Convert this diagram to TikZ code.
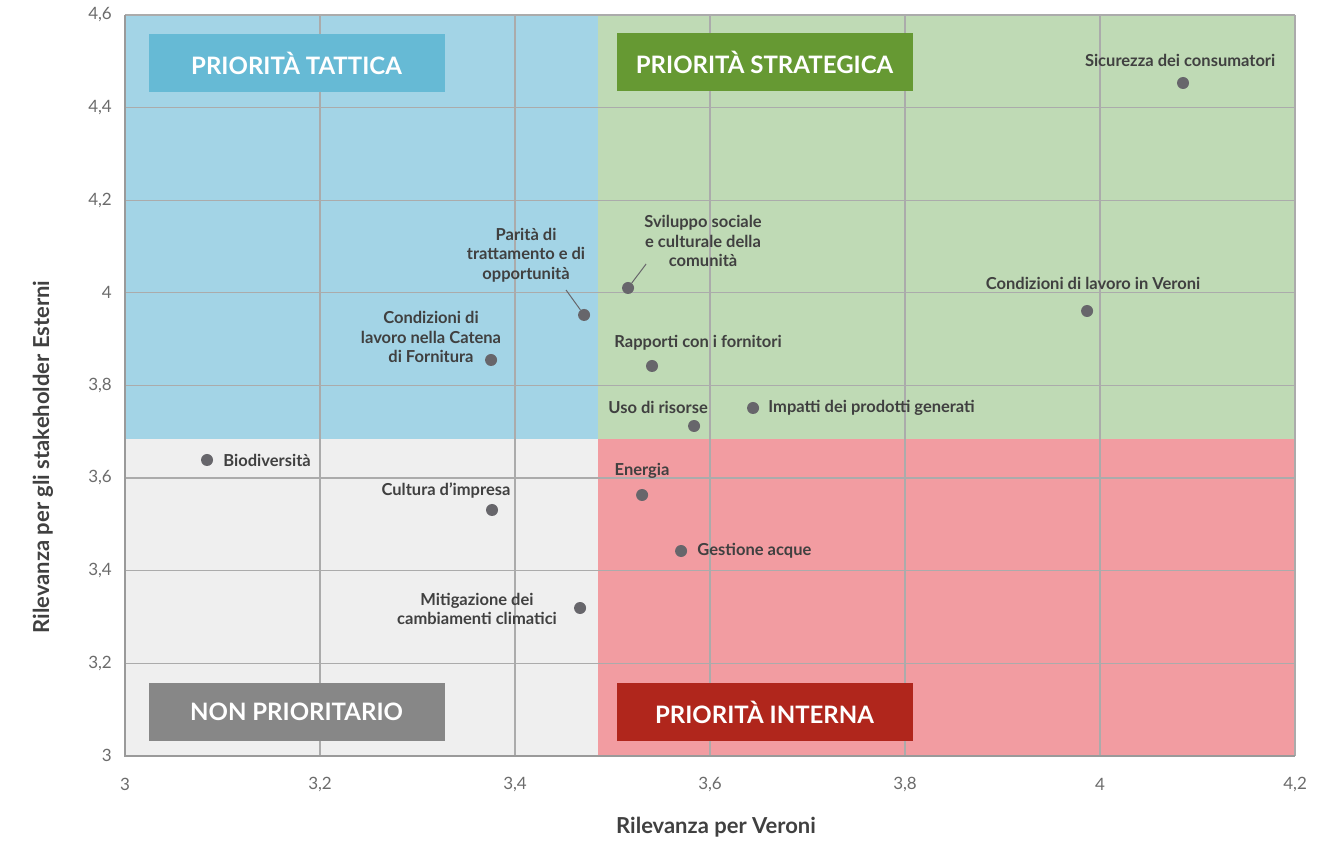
\documentclass[tikz,border=0pt]{standalone}
\usepackage{fontspec}
\setmainfont{Lato}
\usepackage{tikz}
\usetikzlibrary{positioning}

\definecolor{tatticablue}{HTML}{A3D4E6}
\definecolor{tatticabox}{HTML}{66BAD5}
\definecolor{strategicagreen}{HTML}{BFDAB5}
\definecolor{strategicabox}{HTML}{669933}
\definecolor{nongray}{HTML}{EFEFEF}
\definecolor{nonbox}{HTML}{878787}
\definecolor{internared}{HTML}{F29CA1}
\definecolor{internabox}{HTML}{B0261C}
\definecolor{gridgray}{HTML}{ABABAB}
\definecolor{axisgray}{HTML}{9A9A9A}
\definecolor{dotgray}{HTML}{67666B}
\definecolor{labelgray}{HTML}{404040}
\definecolor{tickgray}{HTML}{6B6B6B}

\begin{document}
\begin{tikzpicture}[x=975pt, y=463pt,
    dot/.style={circle, fill=dotgray, minimum size=12pt, inner sep=0pt},
    lbl/.style={font=\bfseries\fontsize{16.5}{19.5}\selectfont, text=labelgray, inner sep=0pt, align=center},
    quadlbl/.style={minimum width=296pt, minimum height=58pt, inner sep=0pt, text=white, font=\bfseries\fontsize{24}{28}\selectfont},
    ticklbl/.style={font=\fontsize{17}{20}\selectfont, text=tickgray, inner sep=0pt},
    axistitle/.style={font=\bfseries\fontsize{22}{26}\selectfont, text=labelgray, inner sep=0pt},
    gridline/.style={draw=gridgray, line width=1.3pt},
    axisline/.style={draw=axisgray, line width=2.6pt},
    leader/.style={draw=dotgray, line width=1pt}]
    \useasboundingbox (2.8718,2.8143) rectangle (4.2451,4.6324);
    % quadrants
    \fill[tatticablue] (3,3.684) rectangle (3.485,4.6);
    \fill[strategicagreen] (3.485,3.684) rectangle (4.2,4.6);
    \fill[nongray] (3,3) rectangle (3.485,3.684);
    \fill[internared] (3.485,3) rectangle (4.2,3.684);
    % grid
    \foreach \x in {3.2,3.4,3.6,3.8,4,4.2}
        \draw[gridline] (\x,3) -- (\x,4.6);
    \foreach \y in {3.2,3.4,3.6,3.8,4,4.2,4.4,4.6}
        \draw[gridline] (3,\y) -- (4.2,\y);
    \draw[axisline] (3,4.6) -- (3,3) -- (4.2,3);
    % ticks
    \foreach \x/\t [count=\i] in {3/3,3.2/{3,2},3.4/{3,4},3.6/{3,6},3.8/{3,8},4/4,4.2/{4,2}}
        \node[ticklbl] (xtick\i) at ([yshift=-29pt]\x,3) {\t};
    \foreach \y/\t [count=\i] in {3/3,3.2/{3,2},3.4/{3,4},3.6/{3,6},3.8/{3,8},4/4,4.2/{4,2},4.4/{4,4},4.6/{4,6}}
        \node[ticklbl, anchor=east] (ytick\i) at ([xshift=-13pt]3,\y) {\t};
    \node[axistitle] (xtitle) at (3.6061,2.846) {Rilevanza per Veroni};
    \node[axistitle, rotate=90] (ytitle) at (2.9159,3.6454) {Rilevanza per gli stakeholder Esterni};
    % quadrant titles
    \node[quadlbl, fill=tatticabox] (tattica) at (3.1759,4.4963) {PRIORITÀ TATTICA};
    \node[quadlbl, fill=strategicabox] (strategica) at (3.6559,4.4985) {PRIORITÀ STRATEGICA};
    \node[quadlbl, fill=nonbox] (nonprio) at (3.1759,3.0946) {NON PRIORITARIO};
    \node[quadlbl, fill=internabox] (interna) at (3.6559,3.0946) {PRIORITÀ INTERNA};
    % topics
    \node[dot] (s1) at (4.0851,4.4531) {};
    \node[dot] (s2) at (3.9867,3.9607) {};
    \node[dot] (s3) at (3.5159,4.0104) {};
    \node[dot] (s4) at (3.4708,3.9521) {};
    \node[dot] (s5) at (3.3754,3.8549) {};
    \node[dot] (s6) at (3.5405,3.8419) {};
    \node[dot] (s7) at (3.5836,3.7123) {};
    \node[dot] (s8) at (3.6441,3.7512) {};
    \node[dot] (s9) at (3.0841,3.6389) {};
    \node[dot] (s10) at (3.3764,3.5309) {};
    \node[dot] (s11) at (3.5303,3.5633) {};
    \node[dot] (s12) at (3.5703,3.4423) {};
    \node[dot] (s13) at (3.4667,3.3192) {};
    \node[lbl] (l1) at (4.0821,4.5028) {Sicurezza dei consumatori};
    \node[lbl] (l2) at (3.9928,4.0212) {Condizioni di lavoro in Veroni};
    \node[lbl] (l3) at (3.5928,4.1119) {Sviluppo sociale\\e culturale della\\comunità};
    \node[lbl] (l4) at (3.4113,4.0816) {Parità di\\trattamento e di\\opportunità};
    \node[lbl] (l5) at (3.3138,3.9045) {Condizioni di\\lavoro nella Catena\\di Fornitura};
    \node[lbl] (l6) at (3.5877,3.8916) {Rapporti con i fornitori};
    \node[lbl] (l7) at (3.5467,3.7533) {Uso di risorse};
    \node[lbl, right=9pt of s8] (l8) {Impatti dei prodotti generati};
    \node[lbl, right=10pt of s9] (l9) {Biodiversità};
    \node[lbl] (l10) at (3.3292,3.5719) {Cultura d'impresa};
    \node[lbl] (l11) at (3.5303,3.6151) {Energia};
    \node[lbl, right=10pt of s12] (l12) {Gestione acque};
    \node[lbl] (l13) at (3.3610,3.3171) {Mitigazione dei\\cambiamenti climatici};
    % leaders
    \coordinate (l3end) at (3.5344,4.0622);
    \coordinate (l4end) at (3.4523,4.0060);
    \draw[leader] (s3) -- (l3end);
    \draw[leader] (s4) -- (l4end);
\end{tikzpicture}
\end{document}
